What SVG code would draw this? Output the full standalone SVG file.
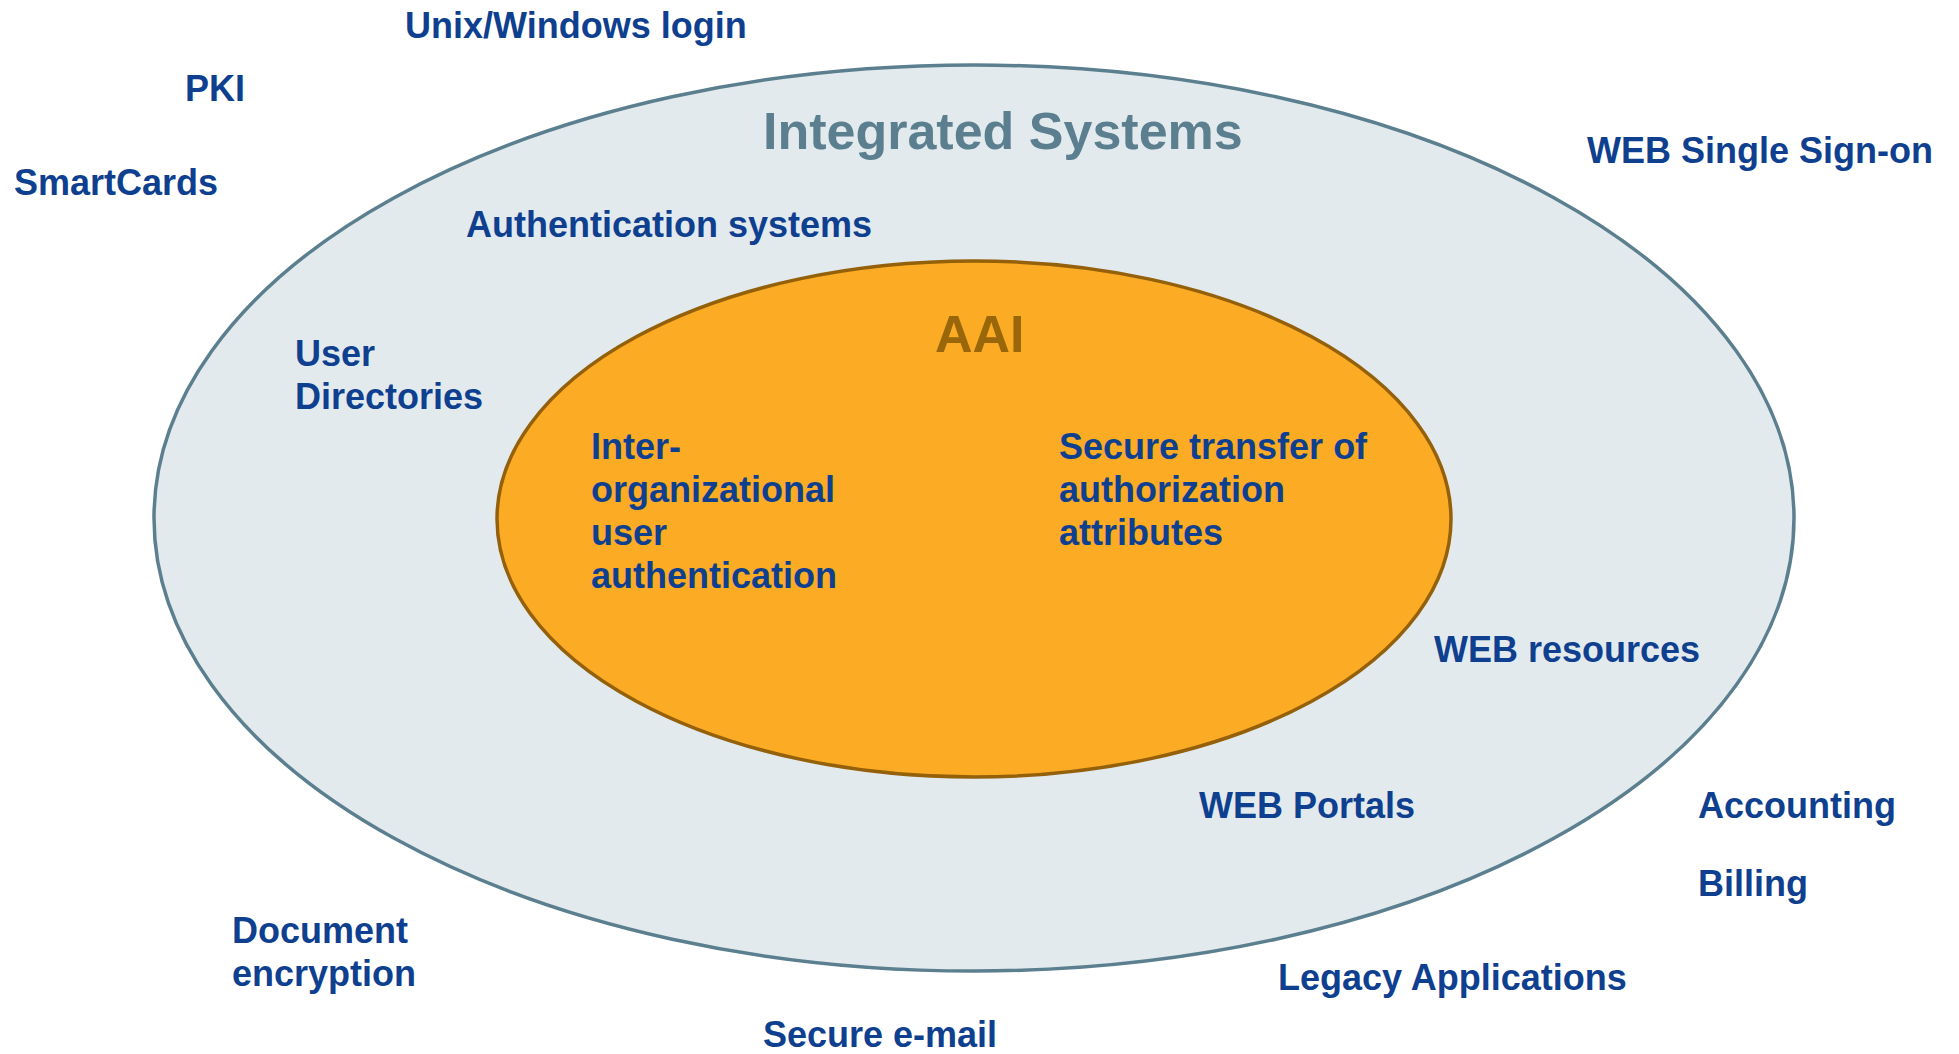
<svg xmlns="http://www.w3.org/2000/svg" width="1959" height="1054" viewBox="0 0 1959 1054">
<style>
text{font-family:"Liberation Sans",Arial,sans-serif;font-weight:bold}
.lbl{font-size:36px;fill:#0f3f8f}
.title{font-size:52px}
</style>
<rect width="1959" height="1054" fill="#ffffff"/>
<g id="integrated-systems">
<ellipse cx="974" cy="518" rx="820" ry="453" fill="#e2eaee" stroke="#5b7f8f" stroke-width="3.5"/>
<text class="title" x="763" y="149" fill="#5b7f8f">Integrated Systems</text>
</g>
<g id="aai">
<ellipse cx="974" cy="519" rx="477" ry="258" fill="#fbab24" stroke="#94600a" stroke-width="3.5"/>
<text class="title" x="935" y="352" fill="#99660a">AAI</text>
</g>
<g id="connectors"></g>
<g id="inter-org"><text class="lbl" x="591" y="459">Inter-</text><text class="lbl" x="591" y="502">organizational</text><text class="lbl" x="591" y="545">user</text><text class="lbl" x="591" y="588">authentication</text></g>
<g id="secure-transfer"><text class="lbl" x="1059" y="459">Secure transfer of</text><text class="lbl" x="1059" y="502">authorization</text><text class="lbl" x="1059" y="545">attributes</text></g>
<g id="unix-login"><text class="lbl" x="405" y="38">Unix/Windows login</text></g>
<g id="pki"><text class="lbl" x="185" y="101">PKI</text></g>
<g id="smartcards"><text class="lbl" x="14" y="195">SmartCards</text></g>
<g id="web-sso"><text class="lbl" x="1587" y="163">WEB Single Sign-on</text></g>
<g id="auth-systems"><text class="lbl" x="466" y="237">Authentication systems</text></g>
<g id="user-dirs"><text class="lbl" x="295" y="366">User</text><text class="lbl" x="295" y="409">Directories</text></g>
<g id="web-resources"><text class="lbl" x="1434" y="662">WEB resources</text></g>
<g id="web-portals"><text class="lbl" x="1199" y="818">WEB Portals</text></g>
<g id="accounting"><text class="lbl" x="1698" y="818">Accounting</text></g>
<g id="billing"><text class="lbl" x="1698" y="896">Billing</text></g>
<g id="doc-encryption"><text class="lbl" x="232" y="943">Document</text><text class="lbl" x="232" y="986">encryption</text></g>
<g id="legacy-apps"><text class="lbl" x="1278" y="990">Legacy Applications</text></g>
<g id="secure-email"><text class="lbl" x="763" y="1047">Secure e-mail</text></g>
</svg>
